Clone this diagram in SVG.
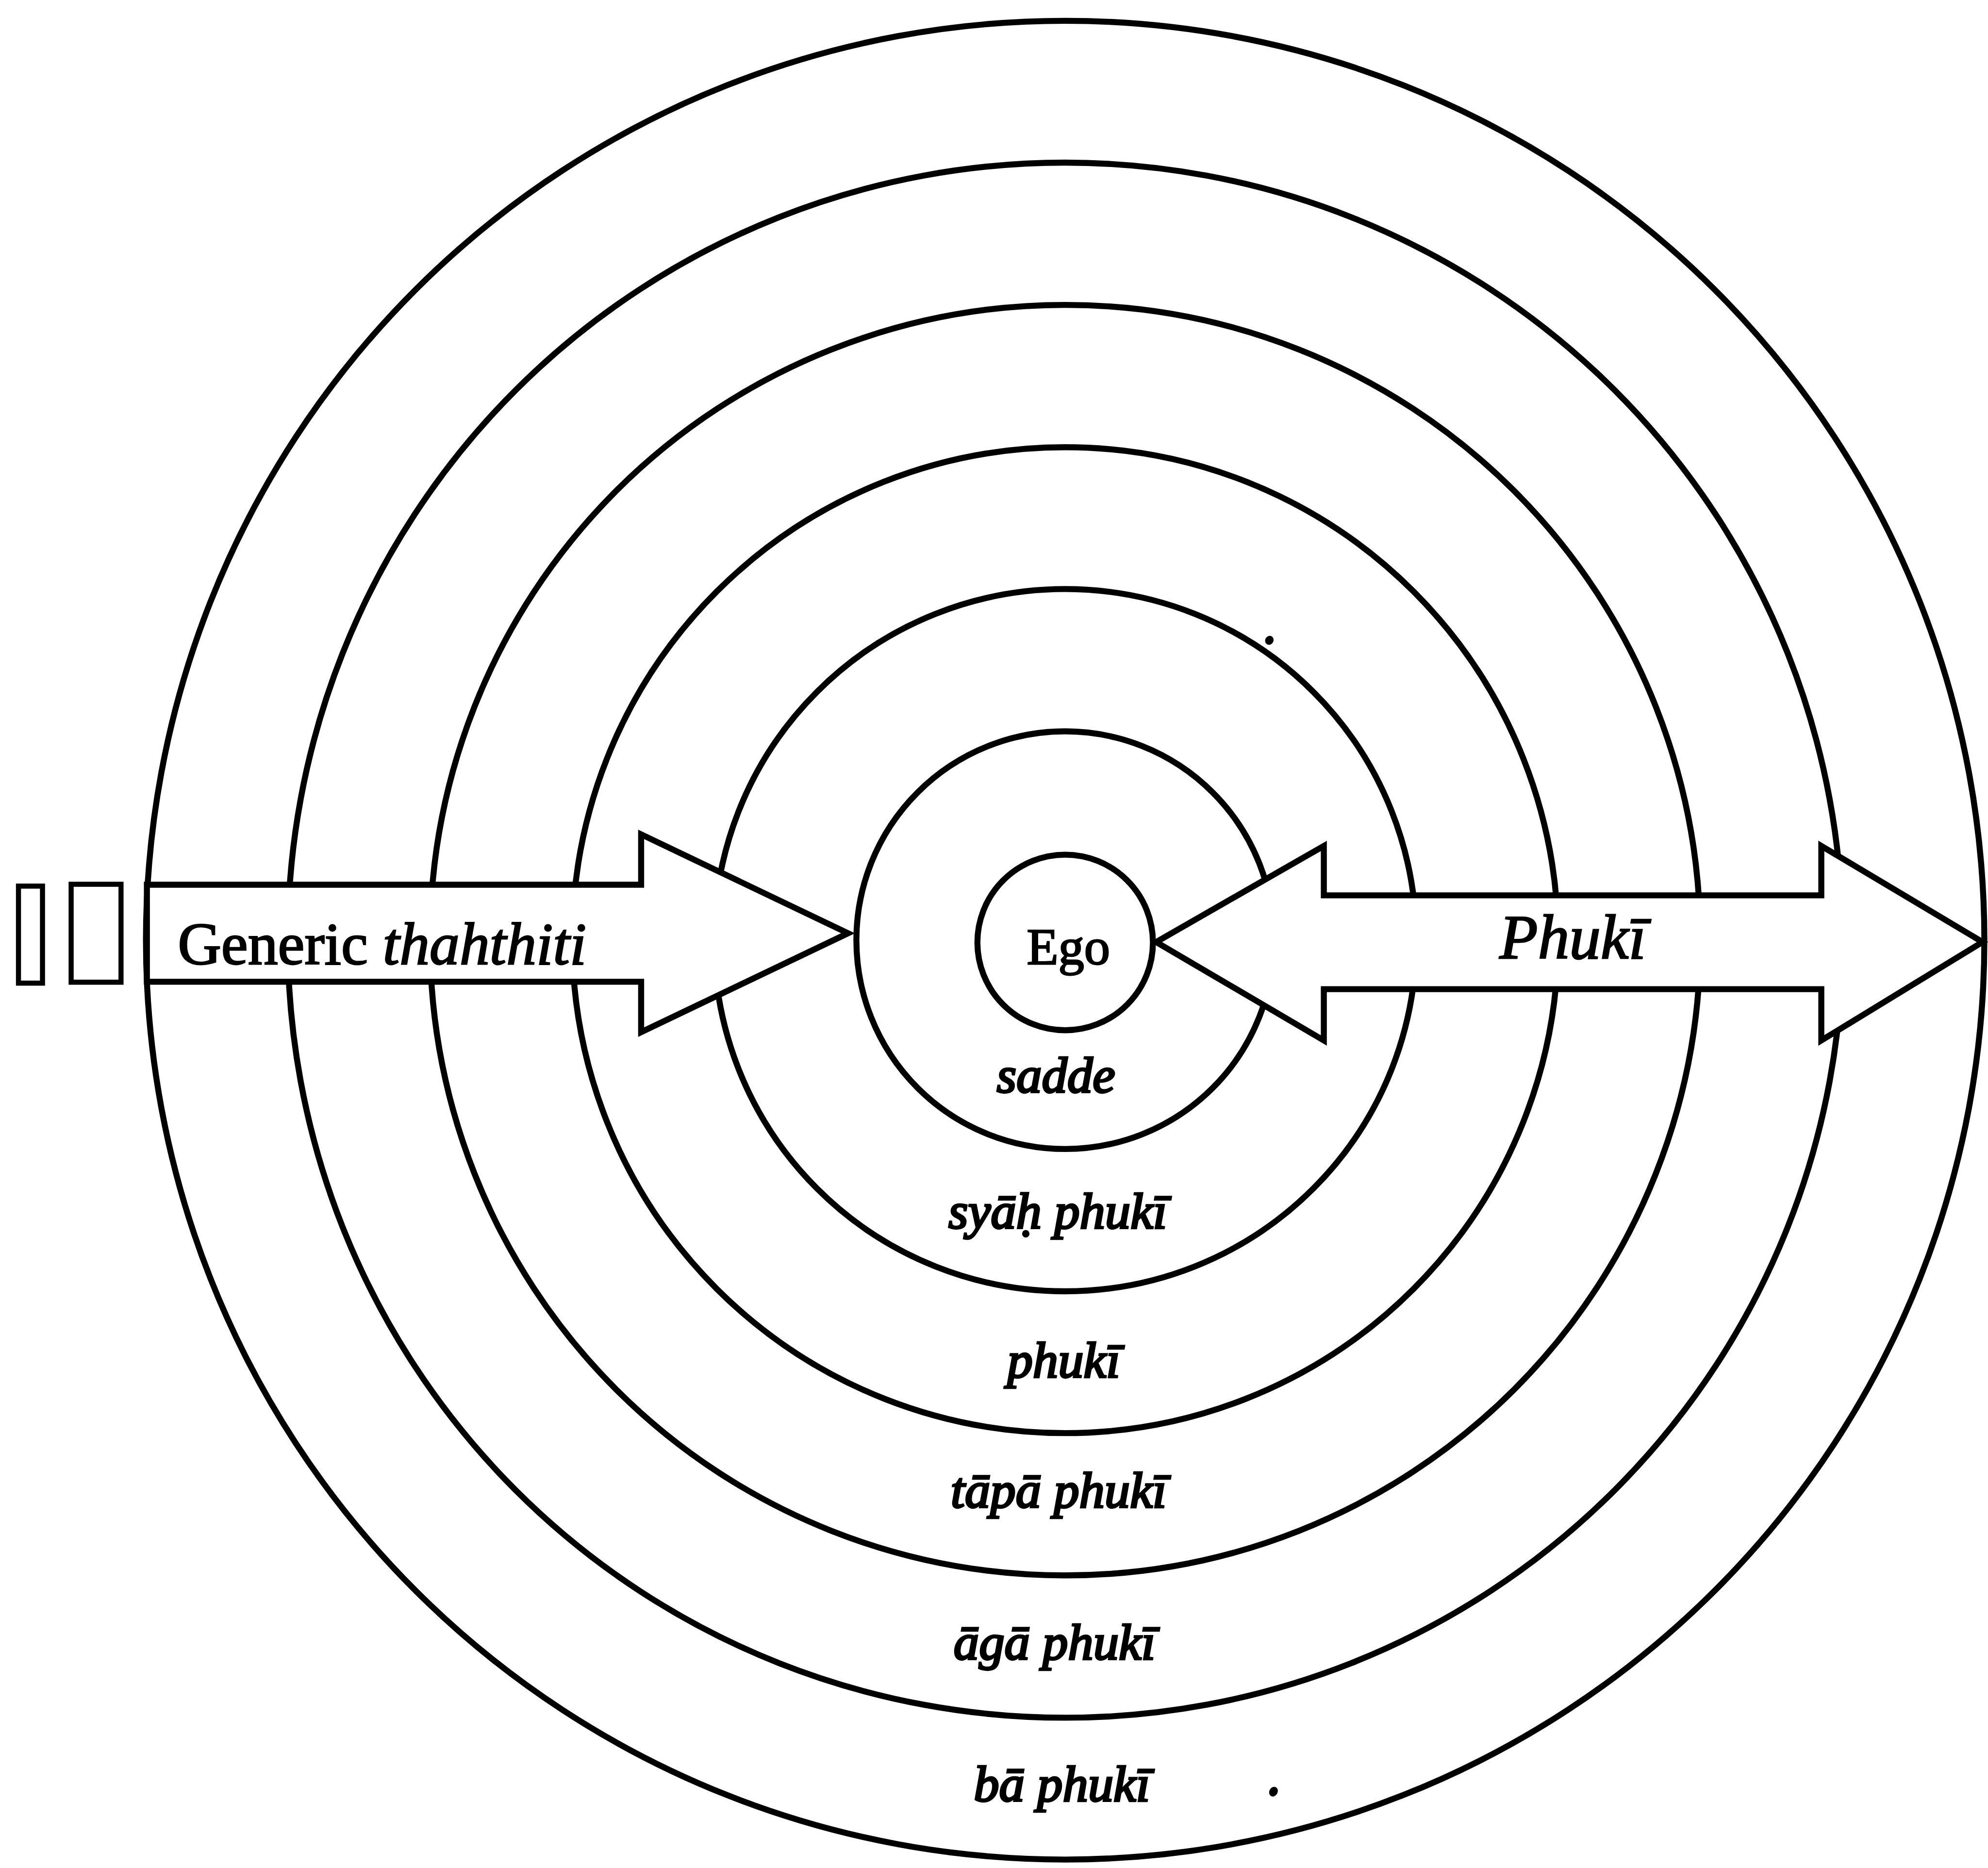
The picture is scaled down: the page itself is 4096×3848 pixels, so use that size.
<svg xmlns="http://www.w3.org/2000/svg" width="4096" height="3848" viewBox="0 0 4096 3848">
  <defs>
    <style>
      .ring { fill: none; stroke: #000; stroke-width: 13; }
      .arrow { fill: #fff; stroke: #000; stroke-width: 13; stroke-linejoin: miter; }
      .box { fill: #fff; stroke: #000; stroke-width: 11; }
      .lbl { font-family: "Liberation Serif", "DejaVu Serif", serif; fill: #000; stroke: #000; stroke-width: 3; }
      .it { font-style: italic; }
      .ringlbl { font-size: 110px; font-style: italic; text-anchor: middle; stroke-width: 4.5; }
      .speck { fill: #000; }
    </style>
  </defs>
  <rect x="0" y="0" width="4096" height="3848" fill="#fff"/>
  <g transform="scale(0.9517)">
    <!-- concentric kinship rings around Ego -->
    <g id="rings">
      <circle id="ring-ba" class="ring" cx="2306" cy="2035" r="1990"/>
      <circle id="ring-aga" class="ring" cx="2306" cy="2035" r="1683"/>
      <circle id="ring-tapa" class="ring" cx="2306" cy="2035" r="1375"/>
      <circle id="ring-phuki" class="ring" cx="2306" cy="2035" r="1067"/>
      <circle id="ring-syah" class="ring" cx="2306" cy="2035" r="760"/>
      <circle id="ring-sadde" class="ring" cx="2306" cy="2035" r="452"/>
    </g>

    <!-- block arrows -->
    <g id="connectors">
      <polygon id="arrow-thahthiti" class="arrow" points="318,1915 1388,1915 1388,1806 1836,2020 1388,2234 1388,2125 318,2125"/>
      <polygon id="arrow-phuki" class="arrow" points="2503,2039 2866,1831 2866,1938 3943,1938 3943,1831 4292,2039 3943,2252 3943,2141 2866,2141 2866,2252"/>
    </g>

    <g id="ego">
      <circle class="ring" cx="2306" cy="2040" r="190"/>
      <text class="lbl" x="2313" y="2087" font-size="112" text-anchor="middle">Ego</text>
    </g>

    <g id="boxes">
      <rect class="box" x="40" y="1918" width="52" height="210"/>
      <rect class="box" x="154" y="1914" width="108" height="212"/>
    </g>

    <g id="arrow-labels">
      <text class="lbl" x="385" y="2087" font-size="130">Generic <tspan class="it">thahthiti</tspan></text>
      <text class="lbl it" x="3405" y="2074" font-size="136" text-anchor="middle">Phukī</text>
    </g>

    <g id="ring-labels">
      <text class="lbl ringlbl" x="2286" y="2364">sadde</text>
      <text class="lbl ringlbl" x="2290" y="2658">syāḥ phukī</text>
      <text class="lbl ringlbl" x="2303" y="2981">phukī</text>
      <text class="lbl ringlbl" x="2292" y="3263">tāpā phukī</text>
      <text class="lbl ringlbl" x="2283" y="3592">āgā phukī</text>
      <text class="lbl ringlbl" x="2299" y="3898">bā phukī</text>
    </g>

    <g id="specks">
      <ellipse class="speck" cx="2748" cy="1386" rx="9" ry="10" transform="rotate(30 2748 1386)"/>
      <ellipse class="speck" cx="2757" cy="3878" rx="9" ry="11" transform="rotate(30 2757 3878)"/>
    </g>
  </g>
</svg>
